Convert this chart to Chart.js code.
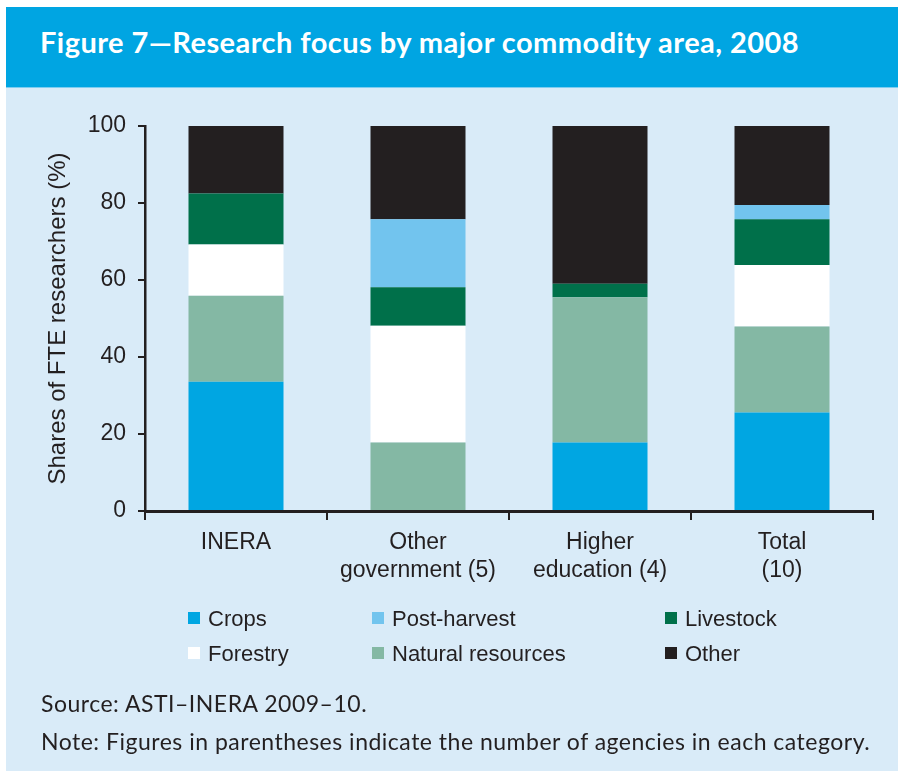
<!DOCTYPE html>
<html>
<head>
<meta charset="utf-8">
<script src="https://cdn.jsdelivr.net/npm/chart.js@4.4.1/dist/chart.umd.min.js"></script>
<style>
  html, body { margin: 0; padding: 0; background: #ffffff; }
  body { width: 898px; height: 771px; position: relative; overflow: hidden; }
  #panel { position: absolute; left: 6px; top: 7px; right: 0; bottom: 0; background: #d9ebf8; }
  #titlebar { position: absolute; left: 6px; top: 7px; right: 0; height: 80px; background: #00a5e2;
    border-bottom: 1px solid #7fcdf0; }
  #title { position: absolute; left: 40px; top: 25px; color: #ffffff; font-family: Lato, sans-serif;
    font-weight: bold; font-size: 29px; letter-spacing: 0.45px; line-height: 34px; white-space: nowrap; }
  #chart { position: absolute; left: 0; top: 0; }
  #legend { position: absolute; left: 0; top: 0; }
  .item { position: absolute; height: 26px; line-height: 26px; font-family: "Liberation Sans", Arial, sans-serif;
    font-size: 22px; color: #231f20; white-space: nowrap; }
  .item .box { position: absolute; left: 0; top: 6px; width: 12px; height: 12px; }
  .item .txt { position: absolute; left: 20px; top: 0; }
  .foot { position: absolute; left: 41px; font-family: Lato, sans-serif; font-size: 23px; letter-spacing: 0.5px;
    color: #231f20; white-space: nowrap; }
</style>
</head>
<body>
<div id="panel"></div>
<div id="titlebar"></div>
<div id="title">Figure 7—Research focus by major commodity area, 2008</div>
<canvas id="chart" width="898" height="771"></canvas>
<div id="legend"></div>
<div class="foot" style="top:689px">Source: ASTI–INERA 2009–10.</div>
<div class="foot" style="top:727px">Note: Figures in parentheses indicate the number of agencies in each category.</div>
<script>
// Categories (multi-line tick labels)
const categories = [["INERA"], ["Other", "government (5)"], ["Higher", "education (4)"], ["Total", "(10)"]];

// Shares of FTE researchers (%)
const crops            = [33.6, 0,    17.8, 25.6];
const naturalResources = [22.3, 17.8, 37.7, 22.3];
const forestry         = [13.3, 30.3, 0,    16.0];
const livestock        = [13.3, 10.0, 3.5,  11.9];
const postHarvest      = [0,    17.7, 0,    3.7];
const other            = [17.5, 24.2, 41.0, 20.5];

const yTicks = [0, 20, 40, 60, 80, 100];

const colors = {
  crops: "#00a6e2",
  postHarvest: "#72c4ee",
  livestock: "#00704a",
  forestry: "#ffffff",
  naturalResources: "#84b8a4",
  other: "#231f20"
};

// stacked bottom to top
const datasets = [
  { label: "Crops", data: crops, backgroundColor: colors.crops },
  { label: "Natural resources", data: naturalResources, backgroundColor: colors.naturalResources },
  { label: "Forestry", data: forestry, backgroundColor: colors.forestry },
  { label: "Livestock", data: livestock, backgroundColor: colors.livestock },
  { label: "Post-harvest", data: postHarvest, backgroundColor: colors.postHarvest },
  { label: "Other", data: other, backgroundColor: colors.other }
];

// legend order, as in the figure (two rows of three)
const legendOrder = ["Crops", "Post-harvest", "Livestock", "Forestry", "Natural resources", "Other"];

const ink = "#231f20";
const tickFont = { family: "'Liberation Sans', Arial, sans-serif", size: 23 };

new Chart(document.getElementById("chart"), {
  type: "bar",
  data: {
    labels: categories,
    datasets: datasets.map((d) => ({ ...d, borderWidth: 0, barPercentage: 0.522, categoryPercentage: 1.0 }))
  },
  options: {
    responsive: false,
    animation: false,
    layout: { padding: { left: 0, top: 126, right: 25, bottom: 170 } },
    plugins: { legend: { display: false }, tooltip: { enabled: false } },
    scales: {
      x: {
        stacked: true,
        afterFit: (scale) => { scale.height = 90; },
        grid: { drawOnChartArea: false, drawTicks: true, tickLength: 9, color: ink, lineWidth: 2, offset: true },
        border: { display: true, color: ink, width: 3 },
        ticks: { color: ink, font: { ...tickFont, lineHeight: 1.25 }, padding: 8, maxRotation: 0, autoSkip: false }
      },
      y: {
        stacked: true,
        min: 0,
        max: 100,
        afterFit: (scale) => { scale.width = 145; },
        afterBuildTicks: (scale) => { scale.ticks = yTicks.map((v) => ({ value: v })); },
        grid: { drawOnChartArea: false, drawTicks: true, tickLength: 7, color: ink, lineWidth: 2 },
        border: { display: true, color: ink, width: 2.5 },
        ticks: { color: ink, font: tickFont, padding: 12 },
        title: {
          display: true,
          text: "Shares of FTE researchers (%)",
          color: ink,
          font: { family: "'Liberation Sans', Arial, sans-serif", size: 24 },
          padding: { top: 44, bottom: 0 }
        }
      }
    }
  }
});

// HTML legend built from the datasets
const legendCols = [188, 372, 665];
const legendRows = [606, 641];
const legend = document.getElementById("legend");
legendOrder.forEach((name, i) => {
  const ds = datasets.find((d) => d.label === name);
  const el = document.createElement("div");
  el.className = "item";
  el.style.left = legendCols[i % 3] + "px";
  el.style.top = legendRows[Math.floor(i / 3)] + "px";
  el.innerHTML = '<span class="box" style="background:' + ds.backgroundColor + '"></span><span class="txt">' + ds.label + "</span>";
  legend.appendChild(el);
});
</script>
</body>
</html>
